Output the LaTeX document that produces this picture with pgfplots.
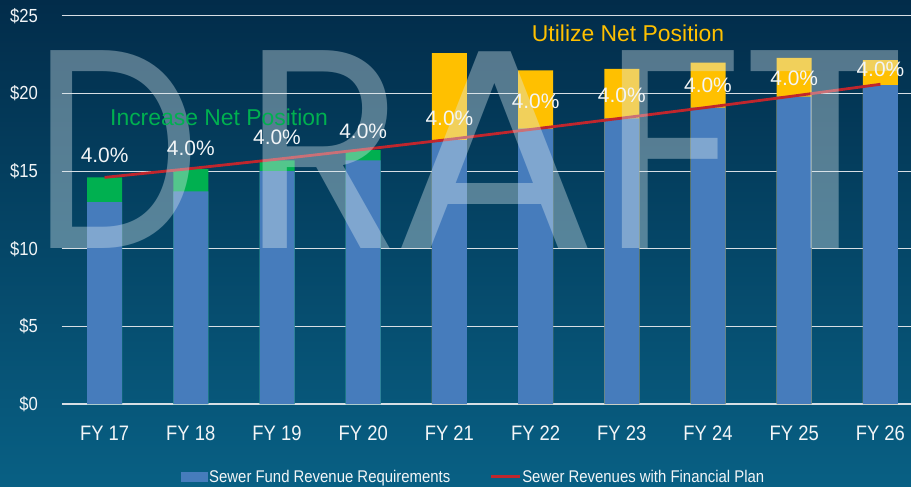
\documentclass[border=0pt]{standalone}
\usepackage{fontspec}
\setmainfont{Liberation Sans}
\newfontfamily\cf[FakeStretch=0.88]{Liberation Sans}
\newfontfamily\wm{Poppins}
\usepackage{pgfplots}
\pgfplotsset{compat=1.18}
\definecolor{bgtop}{RGB}{2,44,74}
\definecolor{bgbot}{RGB}{8,96,132}
\definecolor{barblue}{RGB}{70,124,188}
\definecolor{gr}{RGB}{0,176,80}
\definecolor{ye}{RGB}{255,192,0}
\definecolor{lnred}{RGB}{192,38,45}
\definecolor{gridc}{RGB}{215,222,228}
\definecolor{labc}{RGB}{242,245,247}
\definecolor{wmc}{RGB}{220,235,240}
\begin{document}
\begin{tikzpicture}
\useasboundingbox (0bp,0bp) rectangle (911bp,487bp);
\shade[top color=bgtop, bottom color=bgbot] (0bp,0bp) rectangle (911bp,487bp);
\begin{axis}[
  at={(61.5bp,83bp)}, anchor=south west,
  scale only axis, width=849.5bp, height=388bp,
  xmin=-0.5, xmax=9.355, ymin=0, ymax=25,
  clip=false,
  axis x line*=bottom, axis y line*=left,
  y axis line style={draw=none},
  x axis line style={draw=gridc, line width=2.6bp, -},
  major tick length=0pt,
  xtick={0,1,2,3,4,5,6,7,8,9},
  xticklabels={FY 17,FY 18,FY 19,FY 20,FY 21,FY 22,FY 23,FY 24,FY 25,FY 26},
  ytick={0,5,10,15,20,25},
  yticklabels={\$0,\$5,\$10,\$15,\$20,\$25},
  ymajorgrids, grid style={draw=gridc, line width=1bp},
  xticklabel style={font=\cf\fontsize{21}{21}\selectfont, text=labc, anchor=base, yshift=-36bp},
  yticklabel style={font=\cf\fontsize{19}{19}\selectfont, text=labc, anchor=east, inner sep=0pt, xshift=-23.5bp},
  legend style={at={(0.1407,-0.1881)}, anchor=west, draw=none, fill=none, inner sep=0pt,
    legend columns=2, font=\cf\fontsize{17}{17}\selectfont, text=labc,
    nodes={inner sep=1bp},
    /tikz/every even column/.append style={column sep=38bp}},
]
\addplot[ybar, bar width=35bp, bar shift=0pt, fill=gr, draw=none, forget plot]
  coordinates {(0,14.6) (1,15.13) (2,15.7) (3,16.35)};
\addplot[ybar, bar width=35bp, bar shift=0pt, fill=ye, draw=none, forget plot]
  coordinates {(4,22.6) (5,21.5) (6,21.6) (7,22.0) (8,22.3) (9,22.15)};
\addplot[ybar, bar width=35bp, bar shift=0pt, fill=barblue, draw=none,
  legend image code/.code={\fill[barblue] (0bp,-5bp) rectangle (27bp,5bp);}]
  coordinates {(0,13.0) (1,13.7) (2,15.0) (3,15.7) (4,17.0) (5,17.75) (6,18.4) (7,19.1) (8,19.8) (9,20.55)};
\addlegendentry{Sewer Fund Revenue Requirements}
\addplot[draw=lnred, line width=2.8bp, mark=none,
  legend image code/.code={\draw[draw=lnred, line width=3bp] (0bp,0bp) -- (29bp,0bp);}]
  coordinates {(0,14.6) (1,15.17) (2,15.77) (3,16.4) (4,17.05) (5,17.73) (6,18.42) (7,19.12) (8,19.85) (9,20.6)};
\addlegendentry{Sewer Revenues with Financial Plan}
% DRAFT watermark
\tikzset{wmk/.style={font=\wm\fontsize{285}{285}\selectfont, text=wmc, text opacity=0.38, anchor=base, inner sep=0pt}}
\node[wmk, xscale=0.84] at (axis cs:0.145,10.03) {D};
\node[wmk, xscale=0.94] at (axis cs:2.54,10.03) {R};
\node[wmk, xscale=1.08] at (axis cs:4.53,10.03) {A};
\node[wmk] at (axis cs:6.58,10.03) {F};
\node[wmk, xscale=1.1] at (axis cs:8.36,10.03) {T};
% percentage labels
\addplot[draw=none, mark=none, forget plot, nodes near coords={4.0\%},
  every node near coord/.append style={anchor=center, font=\fontsize{21}{21}\selectfont, text=labc, inner sep=0pt}]
  coordinates {(0,16.01) (1,16.46) (2,17.17) (3,17.56) (4,18.39) (5,19.49) (6,19.87) (7,20.51) (8,20.96) (9,21.54)};
\node[font=\fontsize{23}{23}\selectfont, text=gr] at (axis cs:1.328,18.46) {Increase Net Position};
\node[font=\fontsize{23}{23}\selectfont, text=ye] at (axis cs:6.073,23.86) {Utilize Net Position};
\end{axis}
\end{tikzpicture}
\end{document}
